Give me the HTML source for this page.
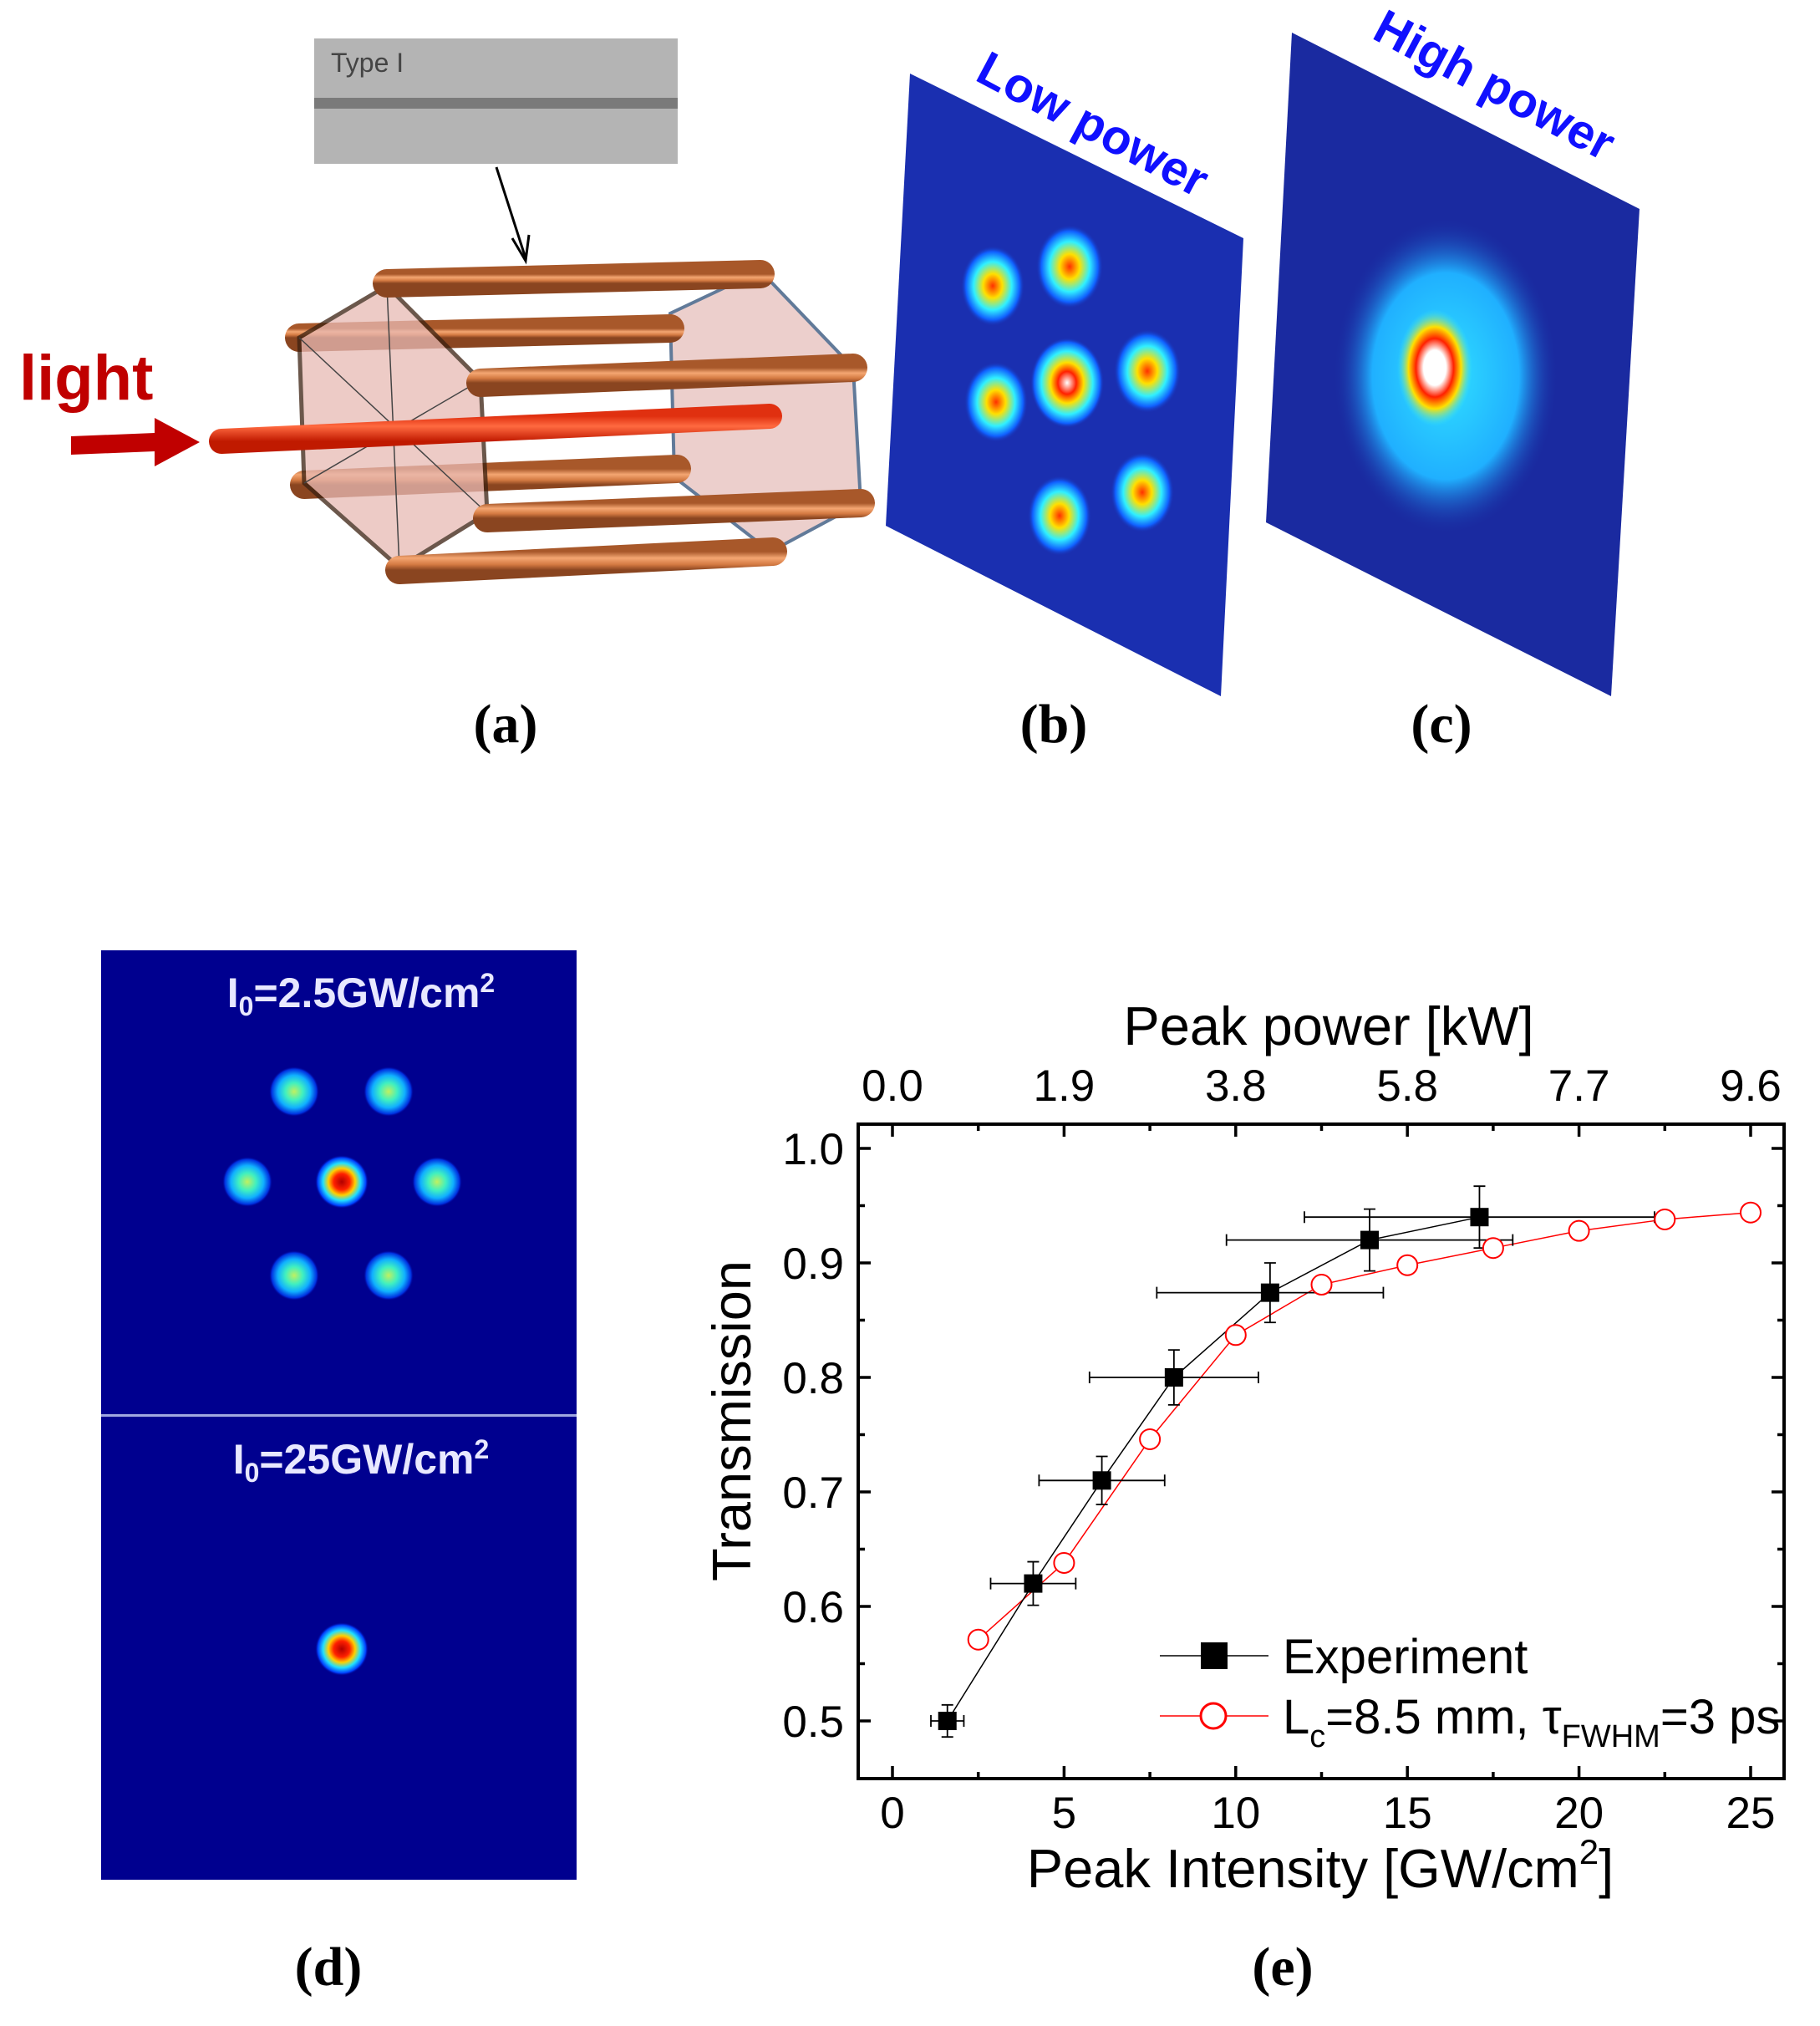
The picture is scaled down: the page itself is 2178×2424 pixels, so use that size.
<!DOCTYPE html>
<html><head><meta charset="utf-8"><style>
html,body{margin:0;padding:0;background:#fff;}
svg{display:block;}
text{font-family:"Liberation Sans",sans-serif;}
.serif{font-family:"Liberation Serif",serif;}
</style></head><body>
<svg id="fig" width="2178" height="2424" viewBox="0 0 2178 2424" xmlns="http://www.w3.org/2000/svg">
<defs>
<linearGradient id="rod" x1="0" y1="0" x2="0" y2="1">
<stop offset="0" stop-color="#a8582a"/><stop offset="0.35" stop-color="#f4a672"/><stop offset="0.7" stop-color="#d47a42"/><stop offset="1" stop-color="#8a4520"/></linearGradient>
<linearGradient id="redrod" x1="0" y1="0" x2="0" y2="1">
<stop offset="0" stop-color="#e03010"/><stop offset="0.4" stop-color="#ff6a40"/><stop offset="1" stop-color="#c01a00"/></linearGradient>
<radialGradient id="spotC"><stop offset="0" stop-color="#b00000"/><stop offset="0.3" stop-color="#ff2000"/><stop offset="0.5" stop-color="#ffd000"/><stop offset="0.7" stop-color="#20e0ff"/><stop offset="0.9" stop-color="#0040ff"/><stop offset="1" stop-color="#00008f" stop-opacity="0"/></radialGradient>
<radialGradient id="spotS"><stop offset="0" stop-color="#c0f060"/><stop offset="0.35" stop-color="#40f0c0"/><stop offset="0.65" stop-color="#10b0ff"/><stop offset="0.9" stop-color="#0030e0"/><stop offset="1" stop-color="#00008f" stop-opacity="0"/></radialGradient>
<radialGradient id="lowS"><stop offset="0" stop-color="#ff3000"/><stop offset="0.3" stop-color="#ffe000"/><stop offset="0.6" stop-color="#30f0ff"/><stop offset="0.85" stop-color="#1060ff"/><stop offset="1" stop-color="#1a30b0" stop-opacity="0"/></radialGradient>
<radialGradient id="lowW"><stop offset="0" stop-color="#ffffff"/><stop offset="0.25" stop-color="#ff2000"/><stop offset="0.45" stop-color="#ffe000"/><stop offset="0.7" stop-color="#30f0ff"/><stop offset="0.9" stop-color="#1060ff"/><stop offset="1" stop-color="#1a30b0" stop-opacity="0"/></radialGradient>
<radialGradient id="highW"><stop offset="0" stop-color="#ffffff"/><stop offset="0.3" stop-color="#ffffff"/><stop offset="0.5" stop-color="#ff2000"/><stop offset="0.7" stop-color="#ffe000"/><stop offset="1" stop-color="#30f0ff" stop-opacity="0"/></radialGradient>
<radialGradient id="highG"><stop offset="0" stop-color="#30e0ff"/><stop offset="0.65" stop-color="#20b0ff"/><stop offset="1" stop-color="#1a2aa0" stop-opacity="0"/></radialGradient>
</defs>

<!-- Panel a -->
<g>
<rect x="376" y="46" width="435" height="150" fill="#b4b4b4"/>
<rect x="376" y="117" width="435" height="13" fill="#7a7a7a"/>
<text x="396" y="86" font-size="32" fill="#444">Type I</text>
<line x1="594" y1="200" x2="629" y2="309" stroke="#000" stroke-width="3"/>
<polyline points="613,285 629,312 633,281" fill="none" stroke="#000" stroke-width="3"/>
<text x="23" y="478" font-size="76" font-weight="bold" fill="#c00000">light</text>
<polygon points="85,522 185,518 185,500 239,529 185,558 185,540 85,544" fill="#c00000"/>
<polygon points="910,324 802,375 807,571 922,660 1030,602 1021,440" fill="#e8c4c0" opacity="0.8" stroke="#3a5a80" stroke-width="4"/>
<g>
<line x1="358" y1="404" x2="802" y2="393" stroke="url(#rod)" stroke-width="34" stroke-linecap="round"/>
<line x1="364" y1="580" x2="810" y2="561" stroke="url(#rod)" stroke-width="34" stroke-linecap="round"/>
</g>
<polygon points="463,342 358,404 364,578 478,679 583,614 575,455" fill="#e8bab4" opacity="0.75" stroke="#3a2010" stroke-width="5"/>
<line x1="463" y1="342" x2="478" y2="679" stroke="#444" stroke-width="1.5"/>
<line x1="358" y1="404" x2="583" y2="614" stroke="#444" stroke-width="1.5"/>
<line x1="364" y1="578" x2="575" y2="455" stroke="#444" stroke-width="1.5"/>
<line x1="265" y1="528" x2="921" y2="498" stroke="url(#redrod)" stroke-width="30" stroke-linecap="round"/>
<line x1="463" y1="339" x2="910" y2="328" stroke="url(#rod)" stroke-width="34" stroke-linecap="round"/>
<line x1="575" y1="458" x2="1021" y2="440" stroke="url(#rod)" stroke-width="34" stroke-linecap="round"/>
<line x1="583" y1="620" x2="1030" y2="602" stroke="url(#rod)" stroke-width="34" stroke-linecap="round"/>
<line x1="478" y1="682" x2="925" y2="660" stroke="url(#rod)" stroke-width="34" stroke-linecap="round"/>
<text x="605" y="888" font-size="66" font-weight="bold" text-anchor="middle" class="serif">(a)</text>
</g>

<!-- Panel b -->
<g>
<polygon points="1089,88 1488,285 1461,833 1060,629" fill="#1a2fb0"/>
<ellipse cx="1188" cy="342" rx="38" ry="48" fill="url(#lowS)"/>
<ellipse cx="1280" cy="319" rx="40" ry="50" fill="url(#lowS)"/>
<ellipse cx="1277" cy="458" rx="44" ry="54" fill="url(#lowW)"/>
<ellipse cx="1373" cy="444" rx="40" ry="50" fill="url(#lowS)"/>
<ellipse cx="1192" cy="481" rx="38" ry="48" fill="url(#lowS)"/>
<ellipse cx="1268" cy="617" rx="38" ry="48" fill="url(#lowS)"/>
<ellipse cx="1367" cy="589" rx="38" ry="48" fill="url(#lowS)"/>
<text x="0" y="0" font-size="58" font-weight="bold" fill="#1010ff" transform="translate(1165,95) rotate(28)">Low power</text>
<text x="1261" y="888" font-size="66" font-weight="bold" text-anchor="middle" class="serif">(b)</text>
</g>

<!-- Panel c -->
<g>
<polygon points="1546,39 1962,250 1928,833 1515,625" fill="#1a2aa0"/>
<ellipse cx="1730" cy="450" rx="135" ry="190" fill="url(#highG)"/>
<ellipse cx="1717" cy="440" rx="45" ry="70" fill="url(#highW)"/>
<text x="0" y="0" font-size="58" font-weight="bold" fill="#1010ff" transform="translate(1640,45) rotate(28)">High power</text>
<text x="1725" y="888" font-size="66" font-weight="bold" text-anchor="middle" class="serif">(c)</text>
</g>

<!-- Panel d -->
<g>
<rect x="121" y="1137" width="569" height="555" fill="#00008f"/>
<rect x="121" y="1695" width="569" height="554" fill="#00008f"/>
<rect x="121" y="1692" width="569" height="3" fill="#a0a8e0"/>
<circle cx="352" cy="1306" r="30" fill="url(#spotS)"/>
<circle cx="465" cy="1306" r="30" fill="url(#spotS)"/>
<circle cx="296" cy="1414" r="30" fill="url(#spotS)"/>
<circle cx="523" cy="1414" r="30" fill="url(#spotS)"/>
<circle cx="352" cy="1526" r="30" fill="url(#spotS)"/>
<circle cx="465" cy="1526" r="30" fill="url(#spotS)"/>
<circle cx="409" cy="1414" r="32" fill="url(#spotC)"/>
<circle cx="409" cy="1973" r="32" fill="url(#spotC)"/>
<text x="432" y="1205" font-size="50" font-weight="bold" fill="#e8e8ff" text-anchor="middle">I<tspan font-size="32" dy="10">0</tspan><tspan dy="-10">=2.5GW/cm</tspan><tspan font-size="32" dy="-18">2</tspan></text>
<text x="432" y="1763" font-size="50" font-weight="bold" fill="#e8e8ff" text-anchor="middle">I<tspan font-size="32" dy="10">0</tspan><tspan dy="-10">=25GW/cm</tspan><tspan font-size="32" dy="-18">2</tspan></text>
<text x="393" y="2375" font-size="66" font-weight="bold" text-anchor="middle" class="serif">(d)</text>
</g>

<!-- Panel e chart -->
<g id="chart"></g>
<text x="1535" y="2375" font-size="66" font-weight="bold" text-anchor="middle" class="serif">(e)</text>
</svg>
<script>
const xTicks = [0, 5, 10, 15, 20, 25];
const topTickLabels = ["0.0", "1.9", "3.8", "5.8", "7.7", "9.6"];
const yTicks = [0.5, 0.6, 0.7, 0.8, 0.9, 1.0];
const yTickLabels = ["0.5", "0.6", "0.7", "0.8", "0.9", "1.0"];
const expX = [1.6, 4.1, 6.1, 8.2, 11.0, 13.9, 17.1];
const expY = [0.50, 0.62, 0.71, 0.80, 0.874, 0.92, 0.94];
const expXErr = [0.48, 1.24, 1.83, 2.46, 3.3, 4.17, 5.1];
const expYErr = [0.014, 0.019, 0.021, 0.024, 0.026, 0.027, 0.027];
const simX = [2.5, 5, 7.5, 10, 12.5, 15, 17.5, 20, 22.5, 25];
const simY = [0.571, 0.638, 0.746, 0.837, 0.881, 0.898, 0.913, 0.928, 0.938, 0.944];

const NS = "http://www.w3.org/2000/svg";
const g = document.getElementById("chart");
const L = 1027, R = 2135, T = 1345, B = 2128;
const X = v => 1068 + v * (2095 - 1068) / 25;
const Y = v => 2059 - (v - 0.5) * (2059 - 1374) / 0.5;
function mk(tag, attrs, parent) {
  const e = document.createElementNS(NS, tag);
  for (const k in attrs) e.setAttribute(k, attrs[k]);
  (parent || g).appendChild(e);
  return e;
}
const frame = mk("rect", {x: L, y: T, width: R - L, height: B - T, fill: "none", stroke: "#000", "stroke-width": 4});


xTicks.forEach((v, i) => {
  const x = X(v);
  mk("line", {x1: x, y1: B, x2: x, y2: B - 15, stroke: "#000", "stroke-width": 3.5});
  mk("line", {x1: x, y1: T, x2: x, y2: T + 15, stroke: "#000", "stroke-width": 3.5});
  if (i < xTicks.length - 1) {
    const xm = X(v + 2.5);
    mk("line", {x1: xm, y1: B, x2: xm, y2: B - 8, stroke: "#000", "stroke-width": 3.5});
    mk("line", {x1: xm, y1: T, x2: xm, y2: T + 8, stroke: "#000", "stroke-width": 3.5});
  }
  const t = mk("text", {x: x, y: 2187, "font-size": 53, "text-anchor": "middle"});
  t.textContent = v;
  
  
  const t2 = mk("text", {x: x, y: 1317, "font-size": 53, "text-anchor": "middle"});
  t2.textContent = topTickLabels[i];
  
  
});
yTicks.forEach((v, i) => {
  const y = Y(v);
  mk("line", {x1: L, y1: y, x2: L + 15, y2: y, stroke: "#000", "stroke-width": 3.5});
  mk("line", {x1: R, y1: y, x2: R - 15, y2: y, stroke: "#000", "stroke-width": 3.5});
  if (i < yTicks.length - 1) {
    const ym = Y(v + 0.05);
    mk("line", {x1: L, y1: ym, x2: L + 8, y2: ym, stroke: "#000", "stroke-width": 3.5});
    mk("line", {x1: R, y1: ym, x2: R - 8, y2: ym, stroke: "#000", "stroke-width": 3.5});
  }
  const t = mk("text", {x: 1010, y: y + 19, "font-size": 53, "text-anchor": "end"});
  t.textContent = yTickLabels[i];
  
  
});
const xt = mk("text", {x: 1580, y: 2258, "font-size": 65, "text-anchor": "middle"});
xt.innerHTML = 'Peak Intensity [GW/cm<tspan font-size="42" dy="-28">2</tspan><tspan dy="28">]</tspan>';


const tt = mk("text", {x: 1590, y: 1250, "font-size": 65, "text-anchor": "middle"});
tt.textContent = "Peak power [kW]";


const yt = mk("text", {x: 0, y: 0, "font-size": 65, "text-anchor": "middle", transform: "translate(898,1700) rotate(-90)"});
yt.textContent = "Transmission";


const sl = mk("polyline", {points: simX.map((v, i) => X(v) + "," + Y(simY[i])).join(" "), fill: "none", stroke: "#ff0000", "stroke-width": 1.5});


const el = mk("polyline", {points: expX.map((v, i) => X(v) + "," + Y(expY[i])).join(" "), fill: "none", stroke: "#000", "stroke-width": 1.5});


expX.forEach((v, i) => {
  const x = X(v), y = Y(expY[i]);
  const x1 = X(v - expXErr[i]), x2 = X(v + expXErr[i]);
  const y1 = Y(expY[i] - expYErr[i]), y2 = Y(expY[i] + expYErr[i]);
  const eb = mk("path", {d: `M${x1},${y}H${x2}M${x1},${y-7}V${y+7}M${x2},${y-7}V${y+7}M${x},${y1}V${y2}M${x-7},${y1}H${x+7}M${x-7},${y2}H${x+7}`, stroke: "#000", "stroke-width": 1.8, fill: "none"});
  
  
});
simX.forEach((v, i) => {
  const c = mk("circle", {cx: X(v), cy: Y(simY[i]), r: 12, fill: "#fff", stroke: "#ff0000", "stroke-width": 2});
  
  
});
expX.forEach((v, i) => {
  const s = mk("rect", {x: X(v) - 11, y: Y(expY[i]) - 11, width: 22, height: 22, fill: "#000"});
  
  
});
const lg = mk("g", {});


mk("line", {x1: 1388, y1: 1981, x2: 1518, y2: 1981, stroke: "#000", "stroke-width": 1.5}, lg);
mk("rect", {x: 1437, y: 1965, width: 32, height: 32, fill: "#000"}, lg);
const l1 = mk("text", {x: 1535, y: 2002, "font-size": 58}, lg);
l1.textContent = "Experiment";


mk("line", {x1: 1388, y1: 2053, x2: 1518, y2: 2053, stroke: "#ff0000", "stroke-width": 1.5}, lg);
mk("circle", {cx: 1452, cy: 2053, r: 15, fill: "#fff", stroke: "#ff0000", "stroke-width": 3}, lg);
const l2 = mk("text", {x: 1535, y: 2074, "font-size": 58}, lg);
l2.innerHTML = 'L<tspan font-size="38" dy="16">c</tspan><tspan dy="-16">=8.5 mm, τ</tspan><tspan font-size="38" dy="16">FWHM</tspan><tspan dy="-16">=3 ps</tspan>';


</script>
</body></html>
